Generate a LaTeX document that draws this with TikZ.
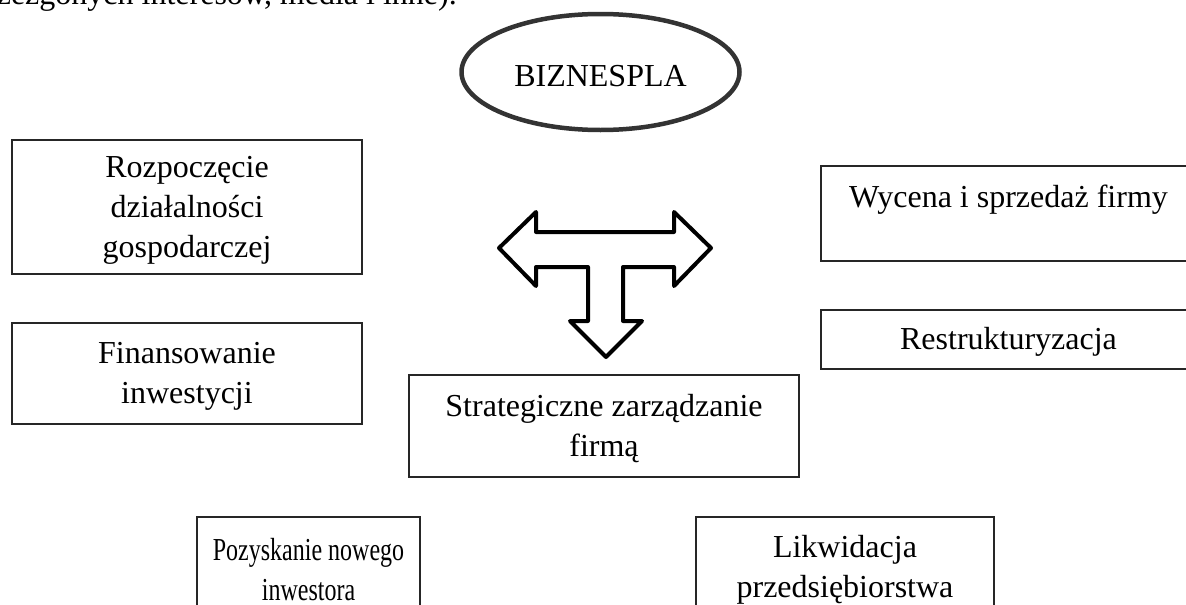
\documentclass[tikz,border=0pt]{standalone}
\usepackage{fontspec}
\setmainfont{Liberation Serif}
\newfontfamily\narrowserif[FakeStretch=0.75]{Liberation Serif}
\usetikzlibrary{shapes.geometric}
\newcommand{\lowstrut}{\rule{0pt}{27pt}}
\begin{document}
\begin{tikzpicture}[x=1pt,y=-1pt,
  box/.style={draw=black!85,line width=1.3pt,rectangle,inner sep=0pt,align=center,
              font=\fontsize{32}{40}\selectfont},
  txt/.style={font=\fontsize{32}{40}\selectfont,inner sep=0pt},
  tarrow/.style={draw=black,line width=4pt,line join=round}]
\useasboundingbox (0,0) rectangle (1186,605);
\clip (0,0) rectangle (1186,605);

% cut-off text line at the top
\node[txt,anchor=base east] (top) at (457,5) {zezgonych interesów, media i inne).};

% ellipse
\node[ellipse,draw=black!80,line width=4.5pt,minimum width=278pt,minimum height=116pt,
      inner sep=0pt,txt,text height=30pt] (biz) at (600.5,72) {BIZNESPLA};

% boxes
\node[box,minimum width=350pt,minimum height=134pt] (rozp) at (187,207)
  {\lowstrut Rozpoczęcie\\działalności\\gospodarczej};
\node[box,minimum width=350pt,minimum height=101pt] (fin) at (187,373.5)
  {\lowstrut Finansowanie\\inwestycji};
\node[box,minimum width=375pt,minimum height=95pt] (wyc) at (1008.5,213.5)
  {\lowstrut Wycena i sprzedaż firmy\\~};
\node[box,minimum width=375pt,minimum height=59pt] (res) at (1008.5,339.5)
  {\lowstrut Restrukturyzacja};
\node[box,minimum width=390pt,minimum height=102pt] (str) at (604,426)
  {\lowstrut Strategiczne zarządzanie\\firmą};
\node[box,minimum width=223pt,minimum height=100pt,
      font=\fontsize{32}{40}\narrowserif] (poz) at (308.5,567)
  {\lowstrut Pozyskanie nowego\\inwestora};
\node[box,minimum width=298pt,minimum height=100pt] (lik) at (845,567)
  {\lowstrut Likwidacja\\przedsiębiorstwa};

% T-shaped three-way arrow
\draw[tarrow] (499,248) -- (536,212) -- (536,232) -- (674,232) -- (674,212)
  -- (711,248) -- (674,286) -- (674,267) -- (623,267) -- (623,321) -- (642,321)
  -- (606,357) -- (570,321) -- (588,321) -- (588,267) -- (536,267) -- (536,286) -- cycle;
\end{tikzpicture}
\end{document}
